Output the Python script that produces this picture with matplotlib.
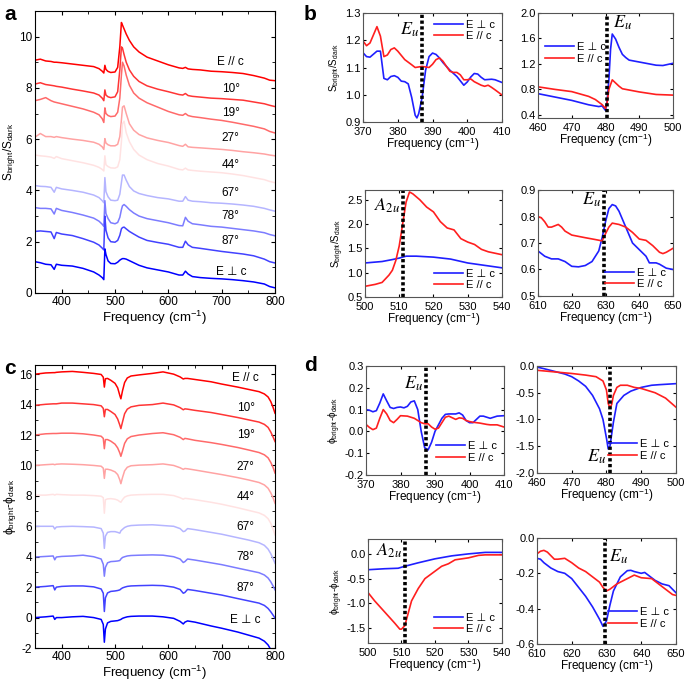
import numpy as np
import matplotlib
matplotlib.use("Agg")
import matplotlib.pyplot as plt

plt.rcParams['font.family'] = ['Liberation Sans', 'DejaVu Sans']
plt.rcParams['mathtext.fontset'] = 'stix'
plt.rcParams['axes.unicode_minus'] = False
plt.rcParams['xtick.direction'] = 'in'
plt.rcParams['ytick.direction'] = 'in'
plt.rcParams['xtick.top'] = True
plt.rcParams['ytick.right'] = True

# ---------------- panel a : S_bright/S_dark, stacked ----------------
labels_ac = ["E // c", "10°", "19°", "27°", "44°", "67°", "78°", "87°", "E \u22a5 c"]
colors_ac = ["#ff0000", "#ff3535", "#ff6a6a", "#ffa3a3", "#ffe2e2",
             "#b5b5ff", "#7c7cff", "#4242ff", "#0000ff"]

freq_a = [350, 360, 370, 380, 386, 390, 400, 420, 440, 460, 470, 476, 479, 481, 483,
          487, 492, 500, 505, 509, 512, 514, 517, 521, 527, 535, 545, 560, 580, 600,
          620, 627, 632, 637, 645, 660, 680, 700, 720, 740, 760, 780, 790, 800]
a_par = [9.08, 9.12, 9.05, 9.03, 9.0, 9.0, 8.98, 8.93, 8.88, 8.83, 8.75, 8.65, 8.58, 8.88, 8.72,
         8.64, 8.6, 8.62, 8.8, 9.6, 10.55, 10.45, 10.3, 10.1, 9.85, 9.6, 9.4, 9.2, 9.05, 8.9,
         8.78, 8.76, 8.8, 8.74, 8.72, 8.7, 8.65, 8.63, 8.6, 8.56, 8.48, 8.38, 8.3, 8.28]
a_10 = [8.15, 8.2, 8.13, 8.1, 8.08, 8.06, 8.03, 7.95, 7.88, 7.8, 7.72, 7.6, 7.5, 7.92, 7.72,
        7.65, 7.62, 7.65, 7.85, 8.7, 9.6, 9.55, 9.3, 9.0, 8.7, 8.45, 8.25, 8.08, 7.95, 7.85,
        7.74, 7.72, 7.78, 7.7, 7.67, 7.64, 7.6, 7.58, 7.55, 7.52, 7.45, 7.38, 7.32, 7.27]
a_19 = [7.5, 7.55, 7.62, 7.5, 7.45, 7.43, 7.38, 7.28, 7.18, 7.05, 6.95, 6.8, 6.65, 7.22, 7.0,
        6.92, 6.88, 6.9, 7.05, 7.6, 8.5, 9.0, 8.85, 8.5, 8.1, 7.8, 7.6, 7.42, 7.25, 7.08,
        6.95, 6.93, 7.0, 6.92, 6.88, 6.84, 6.78, 6.73, 6.66, 6.58, 6.5, 6.4, 6.3, 6.24]
a_27 = [6.08, 6.22, 6.1, 6.1, 6.07, 6.1, 6.06, 6.0, 5.95, 5.88, 5.8, 5.7, 5.6, 6.02, 5.85,
        5.78, 5.74, 5.74, 5.8, 6.1, 6.75, 7.25, 7.3, 7.0, 6.6, 6.35, 6.18, 6.05, 5.95, 5.87,
        5.75, 5.72, 5.8, 5.7, 5.68, 5.66, 5.63, 5.6, 5.56, 5.51, 5.47, 5.42, 5.38, 5.35]
a_44 = [5.38, 5.35, 5.33, 5.3, 5.25, 5.32, 5.24, 5.16, 5.08, 4.98, 4.9, 4.82, 4.76, 5.35, 5.0,
        4.93, 4.88, 4.87, 4.92, 5.2, 5.9, 6.6, 6.7, 6.25, 5.9, 5.6, 5.38, 5.2, 5.05, 4.95,
        4.82, 4.8, 4.87, 4.8, 4.78, 4.75, 4.72, 4.69, 4.64, 4.58, 4.5, 4.42, 4.35, 4.3]
a_67 = [4.19, 4.16, 4.15, 4.12, 3.93, 4.12, 4.06, 4.0, 3.93, 3.82, 3.72, 3.6, 3.52, 4.5, 3.95,
        3.75, 3.62, 3.6, 3.62, 3.85, 4.3, 4.6, 4.6, 4.4, 4.15, 3.98, 3.88, 3.8, 3.72, 3.67,
        3.58, 3.58, 3.76, 3.62, 3.58, 3.56, 3.52, 3.5, 3.47, 3.43, 3.38, 3.3, 3.24, 3.19]
a_78 = [3.33, 3.3, 3.3, 3.28, 3.08, 3.3, 3.22, 3.14, 3.04, 2.92, 2.8, 2.68, 2.6, 3.6, 3.1,
        2.9, 2.74, 2.7, 2.75, 2.95, 3.25, 3.4, 3.45, 3.38, 3.25, 3.12, 3.0, 2.9, 2.82, 2.74,
        2.63, 2.62, 2.95, 2.8, 2.7, 2.66, 2.6, 2.57, 2.52, 2.47, 2.42, 2.35, 2.28, 2.23]
a_87 = [2.4, 2.42, 2.4, 2.38, 2.12, 2.36, 2.3, 2.24, 2.12, 1.98, 1.87, 1.75, 1.68, 3.0, 2.45,
        2.15, 2.0, 1.98, 2.05, 2.25, 2.5, 2.55, 2.57, 2.5, 2.4, 2.3, 2.18, 2.05, 1.97, 1.9,
        1.78, 1.78, 2.02, 1.88, 1.78, 1.74, 1.68, 1.62, 1.57, 1.52, 1.45, 1.32, 1.22, 1.17]
a_perp = [1.22, 1.18, 1.12, 1.1, 0.92, 1.12, 1.08, 1.05, 0.96, 0.82, 0.7, 0.6, 0.52, 1.72, 1.5,
          1.25, 1.15, 1.14, 1.2, 1.28, 1.32, 1.34, 1.34, 1.32, 1.26, 1.18, 1.08, 0.98, 0.9, 0.82,
          0.7, 0.7, 0.85, 0.74, 0.64, 0.6, 0.57, 0.55, 0.52, 0.48, 0.43, 0.35, 0.25, 0.2]
label_y_a = [8.99, 7.96, 7.03, 6.04, 5.0, 3.9, 2.99, 2.03, 0.82]

# ---------------- panel c : phi_bright - phi_dark, stacked ----------------
freq_c = [350, 370, 384, 387, 390, 400, 420, 440, 460, 474, 478, 480, 482, 486, 492,
          500, 505, 509, 511, 514, 518, 523, 530, 545, 570, 590, 610, 622, 628, 631,
          636, 650, 680, 700, 730, 750, 770, 780, 787, 792, 796, 800]
c_par = [16.0, 16.08, 16.1, 16.1, 16.12, 16.15, 16.18, 16.12, 16.05, 15.98, 15.8, 15.15, 15.7, 15.72, 15.6,
         15.4, 15.1, 14.6, 14.38, 14.9, 15.45, 15.75, 15.88, 15.95, 16.05, 16.15, 16.0, 15.82, 15.68, 15.72,
         15.72, 15.65, 15.5, 15.35, 15.15, 15.0, 14.85, 14.7, 14.5, 14.2, 13.85, 13.43]
c_10 = [13.95, 14.02, 14.05, 14.05, 14.05, 14.1, 14.1, 14.05, 14.0, 13.92, 13.75, 13.2, 13.68, 13.68, 13.55,
        13.35, 13.05, 12.65, 12.42, 12.85, 13.4, 13.7, 13.85, 13.95, 14.0, 14.1, 13.98, 13.8, 13.66, 13.72,
        13.7, 13.62, 13.48, 13.35, 13.15, 13.0, 12.85, 12.7, 12.5, 12.2, 11.9, 11.57]
c_19 = [12.0, 12.08, 12.1, 12.1, 12.1, 12.12, 12.12, 12.08, 12.0, 11.92, 11.78, 11.1, 11.7, 11.7, 11.6,
        11.4, 11.15, 10.82, 10.6, 10.95, 11.45, 11.75, 11.9, 12.0, 12.1, 12.15, 12.02, 11.85, 11.7, 11.78,
        11.75, 11.65, 11.5, 11.38, 11.18, 11.02, 10.85, 10.7, 10.5, 10.2, 9.9, 9.5]
c_27 = [10.0, 10.05, 10.08, 10.05, 10.08, 10.1, 10.08, 10.05, 10.0, 9.95, 9.82, 9.15, 9.75, 9.75, 9.7,
        9.58, 9.4, 9.05, 8.8, 9.2, 9.65, 9.88, 9.98, 10.02, 10.05, 10.1, 10.0, 9.85, 9.74, 9.8,
        9.78, 9.7, 9.52, 9.4, 9.2, 9.05, 8.88, 8.72, 8.5, 8.2, 7.9, 7.51]
c_44 = [8.05, 8.05, 8.1, 8.05, 8.1, 8.08, 8.05, 8.05, 8.02, 7.98, 7.88, 6.86, 7.75, 7.8, 7.82,
        7.78, 7.72, 7.62, 7.58, 7.75, 7.92, 8.0, 8.05, 8.08, 8.1, 8.1, 8.02, 7.88, 7.78, 7.84,
        7.82, 7.75, 7.58, 7.45, 7.22, 7.05, 6.88, 6.72, 6.5, 6.2, 5.85, 5.43]
c_67 = [6.0, 6.0, 6.0, 5.82, 5.95, 5.98, 6.0, 5.98, 5.95, 5.85, 5.55, 4.55, 5.35, 5.6, 5.65,
        5.65, 5.6, 5.55, 5.7, 5.8, 5.92, 6.0, 6.05, 6.08, 6.1, 6.05, 6.0, 5.85, 5.65, 5.68,
        5.85, 5.78, 5.6, 5.48, 5.25, 5.1, 4.92, 4.75, 4.5, 4.2, 3.9, 3.57]
c_78 = [3.98, 4.02, 4.05, 3.8, 3.98, 4.02, 4.05, 4.1, 4.0, 3.85, 3.5, 2.72, 3.3, 3.6, 3.68,
        3.7, 3.72, 3.75, 3.85, 3.95, 4.0, 4.05, 4.08, 4.1, 4.12, 4.1, 4.0, 3.85, 3.62, 3.68,
        3.85, 3.78, 3.6, 3.48, 3.25, 3.1, 2.95, 2.8, 2.6, 2.35, 2.1, 1.82]
c_87 = [2.0, 2.05, 2.1, 1.82, 2.0, 2.05, 2.08, 2.08, 2.02, 1.88, 1.6, 0.4, 1.3, 1.62, 1.72,
        1.75, 1.78, 1.82, 1.88, 1.95, 2.0, 2.05, 2.08, 2.1, 2.12, 2.1, 2.0, 1.85, 1.6, 1.65,
        1.85, 1.78, 1.6, 1.48, 1.25, 1.1, 0.95, 0.8, 0.6, 0.38, 0.18, -0.03]
c_perp = [0.0, 0.05, 0.1, -0.12, 0.0, 0.0, 0.05, 0.08, 0.0, -0.12, -0.45, -1.62, -0.75, -0.35, -0.25,
          -0.22, -0.2, -0.15, -0.12, -0.05, 0.0, 0.05, 0.08, 0.1, 0.1, 0.05, -0.05, -0.25, -0.42, -0.3,
          -0.22, -0.3, -0.55, -0.7, -0.95, -1.15, -1.35, -1.55, -1.8, -2.1, -2.4, -2.7]
label_y_c = [15.72, 13.75, 12.0, 9.92, 7.95, 5.98, 3.95, 1.94, -0.14]

# ---------------- panel b : zoomed S_bright/S_dark ----------------
b1_x_perp = [370, 371, 372, 374, 375, 376, 377, 378, 379, 380, 381, 382, 383, 384, 385, 385.5, 386,
             387, 388, 389, 390, 391, 392, 393, 395, 397, 399, 400, 401, 402, 403, 404, 405, 407, 408, 409, 410]
b1_perp = [1.154, 1.14, 1.138, 1.16, 1.16, 1.06, 1.055, 1.067, 1.07, 1.064, 1.05, 1.048, 1.04, 0.99, 0.925,
           0.915, 0.93, 0.99, 1.09, 1.14, 1.153, 1.148, 1.135, 1.118, 1.09, 1.067, 1.035, 1.047, 1.065,
           1.078, 1.076, 1.064, 1.055, 1.057, 1.055, 1.05, 1.045]
b1_x_par = [370, 371, 372, 373, 374, 375, 376, 377, 378, 379, 380, 382, 384, 385, 387, 389, 390, 391,
            392, 393, 394, 395, 396, 397, 398, 399, 400, 401, 402, 404, 405, 406, 407, 408, 410]
b1_par = [1.197, 1.18, 1.19, 1.22, 1.25, 1.215, 1.14, 1.146, 1.166, 1.172, 1.16, 1.129, 1.11, 1.1, 1.104,
          1.1, 1.112, 1.129, 1.135, 1.123, 1.104, 1.086, 1.082, 1.082, 1.073, 1.055, 1.055, 1.058, 1.048,
          1.035, 1.031, 1.035, 1.027, 1.018, 0.999]

b2_x_perp = [460, 465, 470, 475, 478, 479, 480, 480.5, 481, 481.5, 482, 483, 484, 485, 486, 487, 490, 495, 497, 500]
b2_perp = [0.733, 0.68, 0.627, 0.558, 0.53, 0.54, 0.47, 0.63, 0.95, 1.43, 1.67, 1.59, 1.46, 1.35, 1.3,
           1.26, 1.23, 1.18, 1.175, 1.21]
b2_x_par = [460, 465, 470, 475, 477, 479, 480, 480.5, 481, 482, 483, 484, 485, 487, 490, 495, 500]
b2_par = [0.84, 0.8, 0.765, 0.69, 0.64, 0.56, 0.5, 0.6, 0.8, 0.95, 0.9, 0.85, 0.81, 0.79, 0.76, 0.72, 0.71]

b3_x_perp = [500, 505, 508, 510, 512, 515, 520, 525, 530, 535, 540]
b3_perp = [1.2, 1.23, 1.27, 1.3, 1.34, 1.34, 1.32, 1.28, 1.2, 1.15, 1.1]
b3_x_par = [500, 503, 505, 507, 508, 509, 510, 511, 512, 513, 514, 516, 518, 520, 522, 524, 526, 528,
            530, 532, 534, 536, 538, 540]
b3_par = [0.72, 0.76, 0.8, 0.95, 1.05, 1.25, 1.55, 2.0, 2.45, 2.66, 2.62, 2.5, 2.35, 2.25, 2.05, 1.92,
          1.88, 1.7, 1.63, 1.58, 1.48, 1.43, 1.4, 1.37]

b4_x_perp = [610, 612, 614, 616, 618, 620, 622, 624, 626, 628, 629, 630, 631, 632, 633, 634, 636, 638,
             640, 642, 643, 645, 646, 648, 650]
b4_perp = [0.67, 0.65, 0.64, 0.64, 0.63, 0.612, 0.61, 0.615, 0.63, 0.67, 0.72, 0.78, 0.83, 0.845, 0.84,
           0.82, 0.76, 0.7, 0.675, 0.65, 0.625, 0.625, 0.62, 0.605, 0.6]
b4_x_par = [610, 611, 612, 613, 614, 616, 617, 618, 620, 624, 627, 629, 630, 631, 632, 634, 636, 638,
            640, 642, 644, 646, 647, 648, 650]
b4_par = [0.8, 0.795, 0.78, 0.76, 0.76, 0.77, 0.76, 0.745, 0.73, 0.72, 0.713, 0.708, 0.735, 0.76, 0.775,
          0.77, 0.76, 0.74, 0.715, 0.71, 0.69, 0.665, 0.66, 0.665, 0.68]

# ---------------- panel d : zoomed phi_bright - phi_dark ----------------
d1_x = [370, 371, 372, 373, 374, 375, 376, 377, 378, 379, 380, 381, 382, 383, 384, 385, 386, 387,
        388, 389, 390, 391, 392, 393, 394, 396, 397, 398, 399, 400, 401, 402, 403, 404, 405, 406,
        408, 410]
d1_perp = [0.1, 0.097, 0.09, 0.095, 0.13, 0.172, 0.14, 0.11, 0.105, 0.11, 0.112, 0.108, 0.115, 0.135,
           0.14, 0.1, 0.0, -0.075, -0.085, -0.05, 0.0, 0.03, 0.06, 0.078, 0.08, 0.08, 0.085, 0.075,
           0.05, 0.04, 0.04, 0.055, 0.07, 0.07, 0.065, 0.06, 0.07, 0.072]
d1_par = [0.032, 0.018, 0.008, 0.015, 0.06, 0.1, 0.08, 0.05, 0.04, 0.055, 0.072, 0.071, 0.07, 0.065,
          0.06, 0.05, 0.04, 0.035, 0.035, 0.02, 0.01, 0.015, 0.04, 0.065, 0.07, 0.055, 0.062, 0.06,
          0.05, 0.045, 0.042, 0.04, 0.038, 0.035, 0.032, 0.03, 0.03, 0.02]

d2_x_perp = [460, 462, 465, 468, 470, 472, 474, 476, 478, 479, 480, 480.5, 481, 482, 483, 485, 487,
             490, 493, 495, 500]
d2_perp = [-0.02, -0.05, -0.1, -0.15, -0.2, -0.28, -0.38, -0.55, -0.8, -1.0, -1.35, -1.55, -1.5, -1.05,
           -0.7, -0.55, -0.47, -0.4, -0.36, -0.35, -0.33]
d2_x_par = [460, 465, 470, 474, 477, 479, 480, 480.5, 481, 481.5, 482, 483, 484, 486, 488, 490, 494,
            497, 500]
d2_par = [-0.08, -0.11, -0.14, -0.17, -0.2, -0.28, -0.45, -0.7, -0.78, -0.72, -0.55, -0.4, -0.36, -0.36,
          -0.4, -0.42, -0.5, -0.6, -0.77]

d3_x_perp = [500, 505, 509, 511, 515, 520, 525, 530, 535, 540]
d3_perp = [-0.32, -0.3, -0.29, -0.25, -0.18, -0.1, -0.04, 0.0, 0.03, 0.03]
d3_x_par = [500, 502, 504, 506, 508, 509.5, 510, 511, 512, 513, 515, 517, 520, 522, 524, 526, 528,
            530, 533, 535, 540]
d3_par = [-0.78, -0.95, -1.1, -1.25, -1.4, -1.52, -1.52, -1.45, -1.2, -0.95, -0.7, -0.5, -0.35, -0.25,
          -0.2, -0.12, -0.1, -0.08, -0.03, -0.02, -0.02]

d4_x_perp = [610, 611, 612, 614, 616, 618, 620, 622, 624, 626, 628, 629, 630, 631, 632, 634, 636, 637,
             638, 640, 641, 642, 644, 646, 648, 650]
d4_perp = [-0.115, -0.12, -0.14, -0.17, -0.19, -0.2, -0.23, -0.28, -0.33, -0.39, -0.46, -0.5, -0.47,
           -0.38, -0.3, -0.22, -0.185, -0.183, -0.19, -0.2, -0.195, -0.21, -0.24, -0.26, -0.27, -0.31]
d4_x_par = [610, 611, 612, 613, 615, 616, 618, 620, 622, 624, 626, 628, 629, 630, 631, 633, 635, 637,
            638, 640, 643, 645, 647, 649, 650]
d4_par = [-0.09, -0.075, -0.07, -0.08, -0.12, -0.12, -0.115, -0.14, -0.17, -0.19, -0.22, -0.25, -0.28,
          -0.3, -0.29, -0.26, -0.24, -0.22, -0.21, -0.225, -0.23, -0.26, -0.29, -0.32, -0.325]

BLUE = "#1f1fff"
RED = "#ff1f1f"
xlab = "Frequency (cm$^\\mathregular{-1}$)"
s_lab = "S$_\\mathregular{bright}$/S$_\\mathregular{dark}$"
p_lab = "\u03d5$_\\mathregular{bright}$-\u03d5$_\\mathregular{dark}$"

fig = plt.figure(figsize=(6.85, 6.85), dpi=100)


def stacked(ax, x, series, label_y, label_x):
    for y, c, lab, ly in zip(series, colors_ac, labels_ac, label_y):
        ax.plot(x, y, color=c, lw=1.1)
        ax.text(label_x, ly, lab, fontsize=8.5, ha='center', va='center')
    ax.set_xlim(350, 800)
    ax.set_xticks([400, 500, 600, 700, 800])
    ax.set_xticks([350, 450, 550, 650, 750], minor=True)
    ax.tick_params(which='both', top=True, right=True, labelsize=8.5, length=3, pad=2)
    ax.tick_params(which='minor', length=2)
    ax.set_xlabel(xlab, fontsize=9.5, labelpad=1)


ax_a = fig.add_axes([0.0511, 0.5723, 0.3504, 0.4117])
stacked(ax_a, freq_a, [a_par, a_10, a_19, a_27, a_44, a_67, a_78, a_87, a_perp], label_y_a, 717)
ax_a.set_ylim(0, 11)
ax_a.set_yticks([0, 2, 4, 6, 8, 10])
ax_a.set_yticks([1, 3, 5, 7, 9], minor=True)
ax_a.set_ylabel(s_lab, fontsize=8.5, labelpad=1)

ax_c = fig.add_axes([0.0511, 0.054, 0.3504, 0.4131])
stacked(ax_c, freq_c, [c_par, c_10, c_19, c_27, c_44, c_67, c_78, c_87, c_perp], label_y_c, 745)
ax_c.set_ylim(-2, 16.6)
ax_c.set_yticks(range(-2, 17, 2))
ax_c.set_yticks(range(-1, 17, 2), minor=True)
ax_c.set_ylabel(p_lab, fontsize=8.5, labelpad=0)


def zoom_panel(rect, xp, yp, xq, yq, xlim, ylim, yticks, vline, mode, mode_xy, mode_ha,
               leg_loc, leg_anchor, ylabel=None):
    ax = fig.add_axes(rect)
    ax.plot(xp, yp, color=BLUE, lw=1.2, label="E \u22a5 c")
    ax.plot(xq, yq, color=RED, lw=1.2, label="E // c")
    ax.axvline(vline, color='k', lw=2.6, ls=(0, (0.9, 0.7)))
    ax.set_xlim(*xlim)
    ax.set_ylim(*ylim)
    ax.set_xticks(np.arange(xlim[0], xlim[1] + 1, 10))
    ax.set_yticks(yticks)
    ax.tick_params(labelsize=8, length=2.5)
    ax.tick_params(axis='x', pad=3.5)
    ax.tick_params(axis='y', pad=1.5)
    for s in ax.spines.values():
        s.set_color('#555555')
    ax.set_xlabel(xlab, fontsize=8.5, labelpad=-0.5)
    if ylabel:
        ax.set_ylabel(ylabel, fontsize=7, labelpad=1)
    ax.text(mode_xy[0], mode_xy[1], mode, fontsize=13, ha=mode_ha, va='center')
    ax.legend(loc=leg_loc, bbox_to_anchor=leg_anchor, frameon=False, fontsize=8,
              handlelength=2.6, handletextpad=0.3, labelspacing=0.15, borderaxespad=0.2)
    return ax


zoom_panel([0.530, 0.8219, 0.2029, 0.1591], b1_x_perp, b1_perp, b1_x_par, b1_par,
           (370, 410), (0.9, 1.3), [0.9, 1.0, 1.1, 1.2, 1.3], 387, "$E_u$", (386.2, 1.24), 'right',
           'upper right', (1.0, 1.0), s_lab)
zoom_panel([0.7854, 0.8277, 0.1971, 0.1533], b2_x_perp, b2_perp, b2_x_par, b2_par,
           (460, 500), (0.35, 2.0), [0.4, 0.8, 1.2, 1.6, 2.0], 480.5, "$E_u$", (482.3, 1.84), 'left',
           'center left', (0.0, 0.62))
zoom_panel([0.5328, 0.5664, 0.2, 0.1562], b3_x_perp, b3_perp, b3_x_par, b3_par,
           (500, 540), (0.5, 2.7), [0.5, 1.0, 1.5, 2.0, 2.5], 511, "$A_{2u}$", (510.2, 2.37), 'right',
           'lower right', (1.0, 0.0), s_lab)
zoom_panel([0.7854, 0.5679, 0.1971, 0.1547], b4_x_perp, b4_perp, b4_x_par, b4_par,
           (610, 650), (0.5, 0.9), [0.5, 0.6, 0.7, 0.8, 0.9], 629.5, "$E_u$", (628.8, 0.862), 'right',
           'lower right', (1.0, 0.0))

zoom_panel([0.5343, 0.3066, 0.2015, 0.1591], d1_x, d1_perp, d1_x, d1_par,
           (370, 410), (-0.2, 0.3), [-0.2, -0.1, 0.0, 0.1, 0.2, 0.3], 387.5, "$E_u$", (386.5, 0.22), 'right',
           'lower right', (1.0, 0.05), p_lab)
zoom_panel([0.7839, 0.3095, 0.2029, 0.1562], d2_x_perp, d2_perp, d2_x_par, d2_par,
           (460, 500), (-2.0, 0.0), [-2.0, -1.5, -1.0, -0.5, 0.0], 481, "$E_u$", (480.0, -1.69), 'right',
           'lower right', (1.0, 0.05))
zoom_panel([0.5372, 0.0613, 0.1956, 0.1518], d3_x_perp, d3_perp, d3_x_par, d3_par,
           (500, 540), (-1.8, 0.3), [-1.5, -1.0, -0.5, 0.0], 511, "$A_{2u}$", (510.2, 0.06), 'right',
           'lower right', (1.0, 0.02), p_lab)
zoom_panel([0.7839, 0.0599, 0.2029, 0.1547], d4_x_perp, d4_perp, d4_x_par, d4_par,
           (610, 650), (-0.6, 0.0), [-0.6, -0.4, -0.2, 0.0], 629.5, "$E_u$", (630.6, -0.104), 'left',
           'lower right', (1.0, 0.08))

for lab, (px, py) in zip("abcd", [(4, 14), (304, 14), (4, 368), (304, 366)]):
    fig.text(px / 685, 1 - py / 685, lab, fontsize=15, fontweight='bold', ha='left', va='center')

fig.savefig("out.png", dpi=100)
